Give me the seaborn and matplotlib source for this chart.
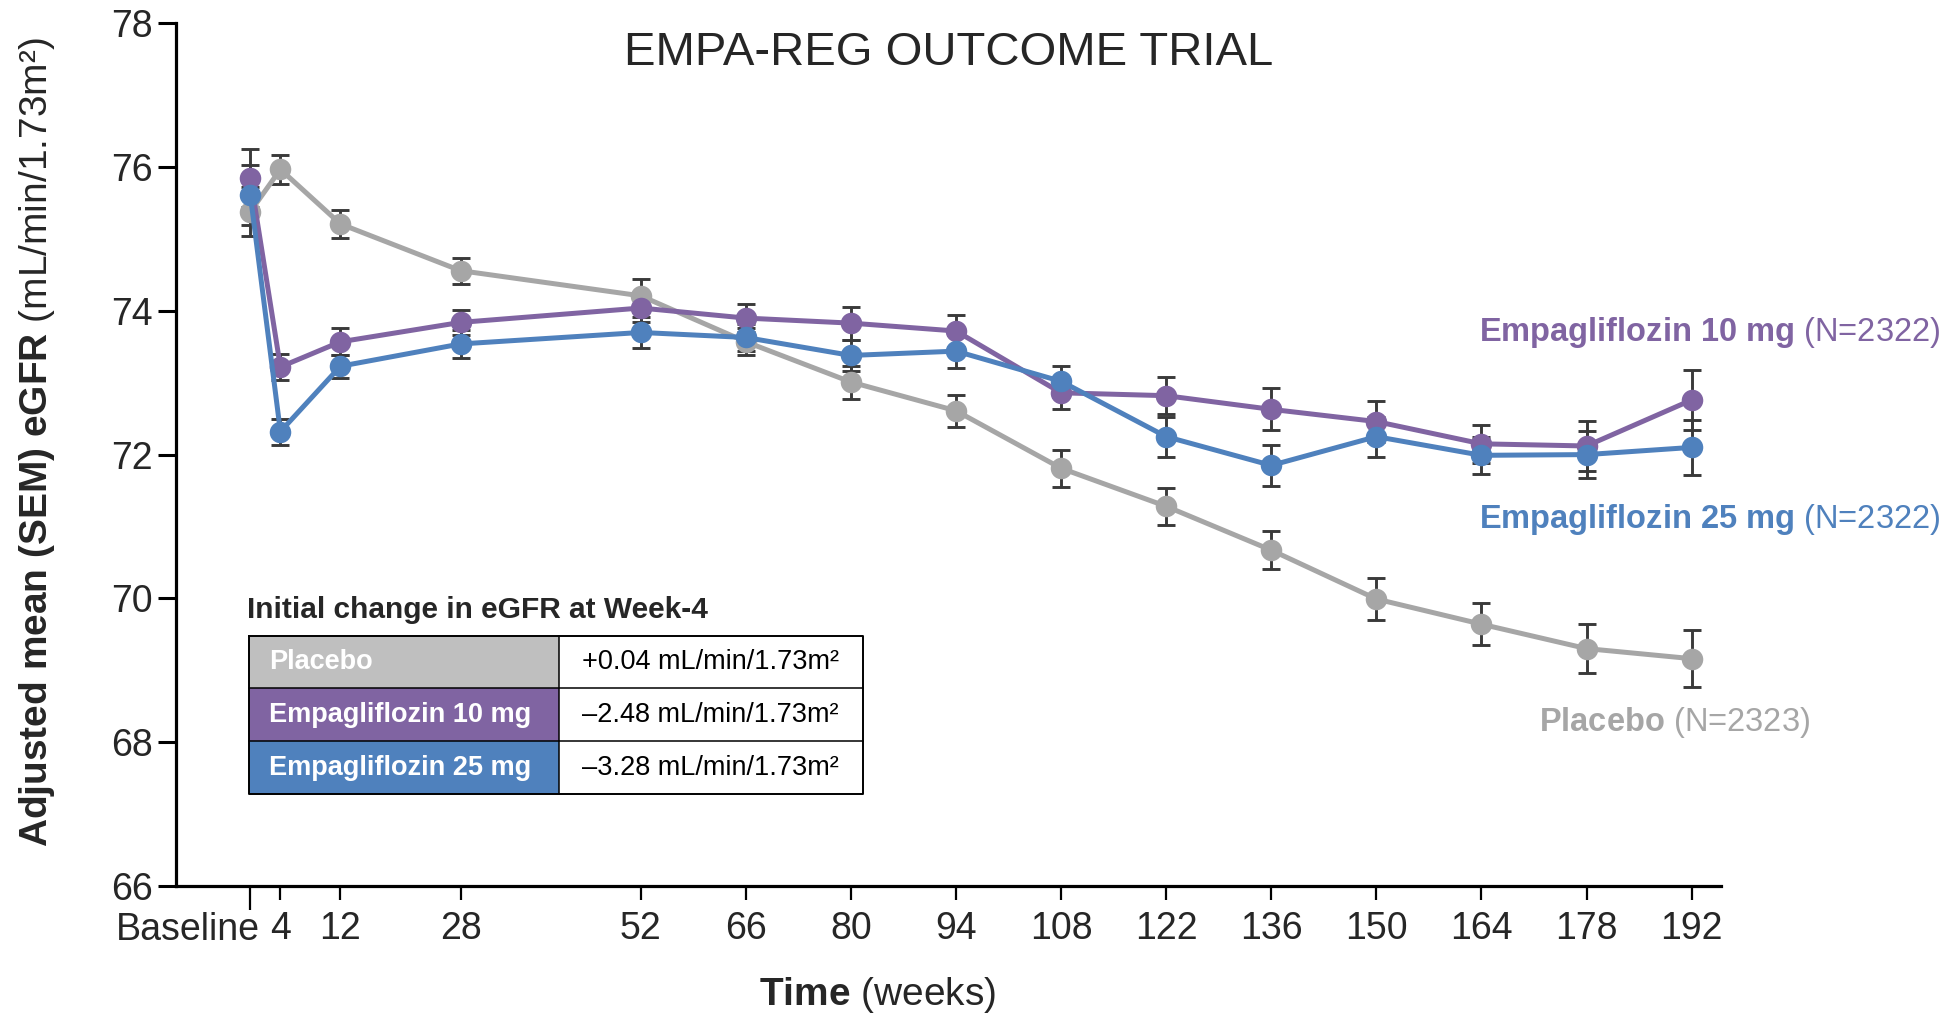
import numpy as np
import pandas as pd
import matplotlib
matplotlib.use("Agg")
import matplotlib.pyplot as plt
import matplotlib.transforms as mtransforms
import seaborn as sns
from matplotlib.patches import Rectangle

# ---------------- data ----------------
weeks = [0, 4, 12, 28, 52, 66, 80, 94, 108, 122, 136, 150, 164, 178, 192]
groups = ["Placebo", "Empagliflozin 10 mg", "Empagliflozin 25 mg"]

placebo = [75.38, 75.97, 75.21, 74.56, 74.21, 73.57, 73.01, 72.61, 71.81, 71.28, 70.67, 69.99, 69.64, 69.30, 69.16]
placebo_sem = [0.34, 0.20, 0.20, 0.18, 0.23, 0.19, 0.23, 0.22, 0.26, 0.26, 0.26, 0.29, 0.29, 0.34, 0.40]
empa10 = [75.85, 73.22, 73.57, 73.84, 74.04, 73.90, 73.83, 73.72, 72.86, 72.82, 72.63, 72.46, 72.15, 72.12, 72.76]
empa10_sem = [0.40, 0.18, 0.19, 0.17, 0.20, 0.19, 0.23, 0.22, 0.22, 0.26, 0.29, 0.28, 0.26, 0.35, 0.42]
empa25 = [75.61, 72.32, 73.23, 73.54, 73.70, 73.63, 73.38, 73.44, 73.02, 72.25, 71.85, 72.25, 71.99, 72.00, 72.10]
empa25_sem = [0.42, 0.18, 0.16, 0.20, 0.21, 0.19, 0.22, 0.23, 0.22, 0.28, 0.29, 0.28, 0.26, 0.33, 0.38]

n_labels = ["(N=2323)", "(N=2322)", "(N=2322)"]
week4_change = ["+0.04 mL/min/1.73m²", "–2.48 mL/min/1.73m²", "–3.28 mL/min/1.73m²"]

tick_weeks = [4, 12, 28, 52, 66, 80, 94, 108, 122, 136, 150, 164, 178, 192]
tick_labels = [str(w) for w in tick_weeks]
y_ticks = [66, 68, 70, 72, 74, 76, 78]

line_colors = {"Placebo": "#A6A6A6", "Empagliflozin 10 mg": "#8064A2", "Empagliflozin 25 mg": "#4F81BD"}
cell_colors = ["#BFBFBF", "#8064A2", "#4F81BD"]

# ---------------- style ----------------
sns.set_style("ticks")
plt.rcParams['font.family'] = ['Liberation Sans', 'DejaVu Sans']
plt.rcParams['mathtext.fontset'] = 'custom'
plt.rcParams['mathtext.rm'] = 'Liberation Sans'
plt.rcParams['mathtext.it'] = 'Liberation Sans:italic'
plt.rcParams['mathtext.bf'] = 'Liberation Sans:bold'

df = pd.DataFrame({
    "week": weeks * 3,
    "egfr": placebo + empa10 + empa25,
    "group": sum([[g] * len(weeks) for g in groups], []),
})
sems = {"Placebo": placebo_sem, "Empagliflozin 10 mg": empa10_sem, "Empagliflozin 25 mg": empa25_sem}
vals = {"Placebo": placebo, "Empagliflozin 10 mg": empa10, "Empagliflozin 25 mg": empa25}

fig = plt.figure(figsize=(19.54, 10.17), dpi=100)
ax = fig.add_axes([0.0901, 0.1291, 0.7906, 0.8478])

for g in groups:
    ax.errorbar(weeks, vals[g], yerr=sems[g], fmt='none', ecolor='#3A3A3A',
                elinewidth=2.1, capsize=6.8, capthick=2.1, zorder=2)

sns.lineplot(data=df, x="week", y="egfr", hue="group", hue_order=groups,
             palette=line_colors, marker='o', markersize=15.5, markeredgewidth=0,
             linewidth=3.6, ax=ax, legend=False, errorbar=None, zorder=3)

ax.set_xlim(-9.9, 195.9)
ax.set_ylim(66, 78)
ax.set_xlabel("")
ax.set_ylabel("")
for s in ["top", "right"]:
    ax.spines[s].set_visible(False)
for s in ["left", "bottom"]:
    ax.spines[s].set_linewidth(2.3)
    ax.spines[s].set_color("black")

ax.set_yticks(y_ticks)
ax.set_yticklabels([str(v) for v in y_ticks])
ax.tick_params(axis='y', which='major', length=13, width=2.2, pad=4, labelsize=27, color='black')

ax.set_xticks(tick_weeks)
ax.set_xticklabels(tick_labels)
ax.tick_params(axis='x', which='major', length=10, width=1.6, pad=8, labelsize=27, color='black')
ax.set_xticks([0], minor=True)
ax.set_xticklabels(["Baseline"], minor=True)
ax.tick_params(axis='x', which='minor', length=17, width=1.6, pad=2, labelsize=27, color='black')
shift = mtransforms.ScaledTranslation(10 / 100, 0, fig.dpi_scale_trans)
for lbl in ax.get_xticklabels(minor=True):
    lbl.set_ha('right')
    lbl.set_transform(lbl.get_transform() + shift)
ax.tick_params(axis='y', which='minor', length=0)

# ---------------- texts ----------------
fig.text(0.4857, 0.9475, "EMPA-REG OUTCOME TRIAL", ha='center', va='center', fontsize=34)
fig.text(0.0189, 0.5654, r"$\bf{Adjusted\ mean\ (SEM)\ eGFR}$ (mL/min/1.73m²)",
         rotation=90, ha='center', va='center', fontsize=28)
fig.text(0.4493, 0.0216, r"$\bf{Time}$ (weeks)", ha='center', va='center', fontsize=28)

fig.text(0.9928, 0.6729, r"$\bf{Empagliflozin\ 10\ mg}$ " + n_labels[1], ha='right', va='center',
         fontsize=23.5, color=line_colors["Empagliflozin 10 mg"])
fig.text(0.9928, 0.4890, r"$\bf{Empagliflozin\ 25\ mg}$ " + n_labels[2], ha='right', va='center',
         fontsize=23.5, color=line_colors["Empagliflozin 25 mg"])
fig.text(0.9263, 0.2893, r"$\bf{Placebo}$ " + n_labels[0], ha='right', va='center',
         fontsize=23.5, color=line_colors["Placebo"])

# ---------------- table ----------------
fig.text(247 / 1954, 1 - 610 / 1017, "Initial change in eGFR at Week-4", ha='left', va='center',
         fontsize=21.5, fontweight='bold')
W, H = 614.0, 158.3
split = 309.5
tab = fig.add_axes([249 / 1954, 1 - 794 / 1017, W / 1954, H / 1017])
tab.set_xlim(0, W)
tab.set_ylim(H, 0)
tab.axis('off')
rh = H / 3
for i, g in enumerate(groups):
    y0 = i * rh
    tab.add_patch(Rectangle((0, y0), split, rh, facecolor=cell_colors[i], edgecolor='none'))
    tab.text(20, y0 + rh / 2, g, color='white', fontweight='bold', fontsize=19.5, ha='left', va='center')
    tab.text((split + W) / 2, y0 + rh / 2, week4_change[i], color='black', fontsize=19.5,
             ha='center', va='center')
lw = 1.4
tab.plot([0, W, W, 0, 0], [0, 0, H, H, 0], color='black', lw=lw, clip_on=False)
for i in (1, 2):
    tab.plot([0, W], [i * rh, i * rh], color='black', lw=1.1, clip_on=False)
tab.plot([split, split], [0, H], color='black', lw=1.1, clip_on=False)

fig.savefig("out.png", dpi=100)
